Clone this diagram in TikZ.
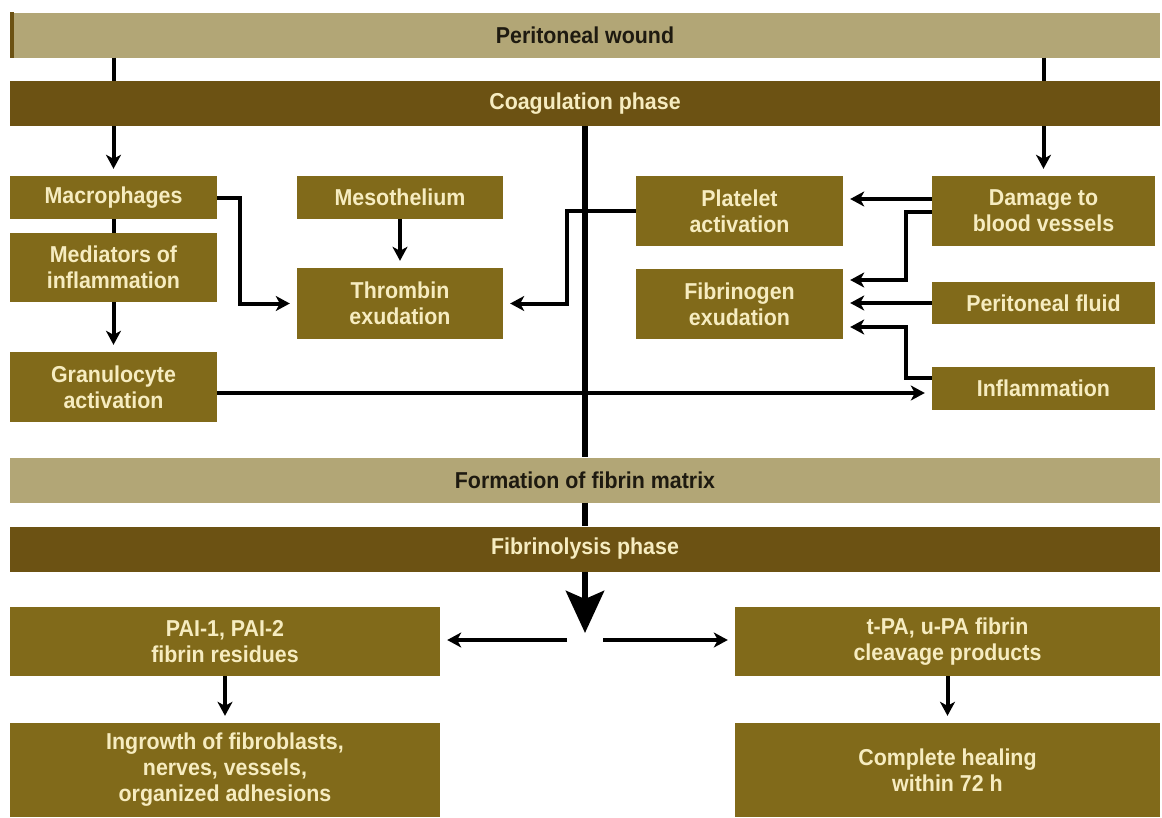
\documentclass[tikz,border=0pt]{standalone}
\usepackage{fontspec}
\newfontfamily\diafont{Liberation Sans}[FakeStretch=0.93]
\usetikzlibrary{arrows.meta}

\definecolor{tanlight}{RGB}{178,166,118}
\definecolor{browndark}{RGB}{108,82,19}
\definecolor{boxolive}{RGB}{129,106,26}
\definecolor{creamtext}{RGB}{246,236,192}
\definecolor{inktext}{RGB}{30,26,16}
\newcommand\labelfont{\diafont\bfseries\fontsize{23}{26}\selectfont}

\tikzset{
  bar/.style={inner sep=0pt, minimum width=1150pt, minimum height=45pt, align=center, font=\labelfont},
  lightbar/.style={bar, fill=tanlight, text=inktext},
  darkbar/.style={bar, fill=browndark, text=creamtext},
  stage/.style={fill=boxolive, text=creamtext, align=center, inner sep=0pt, font=\labelfont},
  conn/.style={line width=4pt, black},
  arr/.style={conn, -{Stealth[length=14pt,width=15pt,inset=4pt]}, shorten >=7pt},
  spine/.style={line width=6.5pt, black},
}

\begin{document}
\begin{tikzpicture}[x=1pt,y=1pt,yscale=-1,xscale=1]
\useasboundingbox[fill=white] (0,0) rectangle (1162,817);

%Shape: phase bars
\node[lightbar] (wound) at (585,35) {Peritoneal wound};
\draw[browndark, line width=4pt] ([xshift=2pt]wound.north west) -- ([xshift=2pt]wound.south west);
\node[darkbar] (coag) at (585,103.5) {Coagulation phase};
\node[lightbar] (matrix) at (585,480) {Formation of fibrin matrix};
\node[darkbar] (lysis) at (585,549) {Fibrinolysis phase};

%Shape: left column
\node[stage, minimum width=207pt, minimum height=43pt] (macro) at (113.5,197.5) {Macrophages};
\node[stage, minimum width=207pt, minimum height=69pt] (medi) at (113.5,267.5) {Mediators of\\inflammation};
\node[stage, minimum width=207pt, minimum height=70pt] (granu) at (113.5,387) {Granulocyte\\activation};
\node[stage, minimum width=206pt, minimum height=43pt] (meso) at (400,197.5) {Mesothelium};
\node[stage, minimum width=206pt, minimum height=71pt] (thromb) at (400,303.5) {Thrombin\\exudation};

%Shape: right column
\node[stage, minimum width=207pt, minimum height=70pt] (plate) at (739.5,211) {Platelet\\activation};
\node[stage, minimum width=223pt, minimum height=70pt] (damage) at (1043.5,211) {Damage to\\blood vessels};
\node[stage, minimum width=207pt, minimum height=70pt] (fibgen) at (739.5,304) {Fibrinogen\\exudation};
\node[stage, minimum width=223pt, minimum height=42pt] (fluid) at (1043.5,303) {Peritoneal fluid};
\node[stage, minimum width=223pt, minimum height=43pt] (inflam) at (1043.5,388.5) {Inflammation};

%Shape: outcome boxes
\node[stage, minimum width=430pt, minimum height=69pt] (pai) at (225,641.5) {PAI-1, PAI-2\\fibrin residues};
\node[stage, minimum width=430pt, minimum height=94pt] (ingrowth) at (225,770) {Ingrowth of fibroblasts,\\nerves, vessels,\\organized adhesions};
\node[stage, minimum width=425pt, minimum height=69pt] (tpa) at (947.5,641.5) {t-PA, u-PA fibrin\\cleavage products};
\node[stage, minimum width=425pt, minimum height=94pt] (healing) at (947.5,770) {Complete healing\\within 72 h};

\coordinate (fork) at (585,633);
\coordinate (forkL) at (567,640);
\coordinate (forkR) at (603,640);

%Straight Lines: main axis
\draw[spine] (coag.south) -- (matrix.north);
\draw[spine] (matrix.south) -- (lysis.north);
\draw[spine, -{Stealth[length=42pt,width=38pt,inset=8pt]}] (lysis.south) -- (fork);

%Straight Lines: wound to coagulation
\draw[conn] (wound.south -| macro) -- (coag.north -| macro);
\draw[arr] (coag.south -| macro) -- (macro.north);
\draw[conn] (wound.south -| damage) -- (coag.north -| damage);
\draw[arr] (coag.south -| damage) -- (damage.north);

%Straight Lines: left side (yshift runs downward here, yscale=-1)
\draw[conn] (macro.south) -- (medi.north);
\draw[arr] (medi.south) -- (granu.north);
\draw[arr] (macro.east) -- ++(23,0) |- (thromb.west);
\draw[arr] (meso.south) -- (thromb.north);
\draw[arr] (plate.west) -- ++(-69,0) |- (thromb.east);
\draw[arr] ([yshift=6pt]granu.east) -- ([yshift=6pt]granu.east -| inflam.west);

%Straight Lines: right side
\draw[arr] ([yshift=-12pt]damage.west) -- ([yshift=-12pt]damage.west -| plate.east);
\draw[arr] ([yshift=1pt]damage.west) -- ++(-26,0) |- ([yshift=-24pt]fibgen.east);
\draw[arr] (fluid.west) -- (fluid.west -| fibgen.east);
\draw[arr] ([yshift=-11pt]inflam.west) -- ++(-26,0) |- ([yshift=23pt]fibgen.east);

%Straight Lines: fibrinolysis outcomes
\draw[arr] (forkL) -- (forkL -| pai.east);
\draw[arr] (forkR) -- (forkR -| tpa.west);
\draw[arr] (pai.south) -- (ingrowth.north);
\draw[arr] (tpa.south) -- (healing.north);

\end{tikzpicture}
\end{document}
